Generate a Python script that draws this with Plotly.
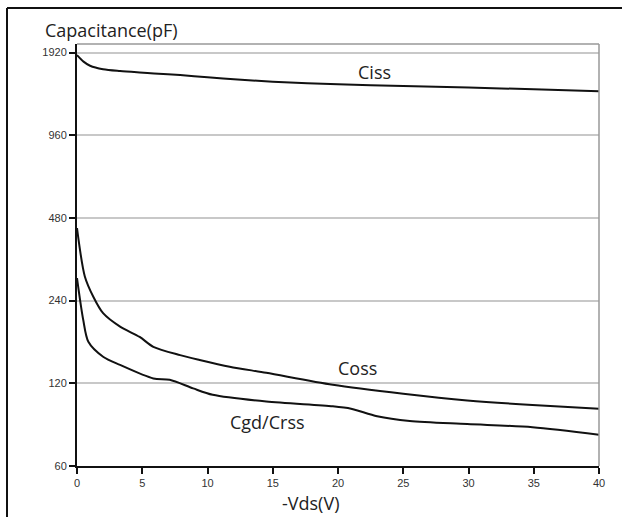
import math
import plotly.graph_objects as go

vds = [0, 0.5, 1, 2, 3.3, 4.8, 5.9, 7.9, 10, 12.3, 15, 20, 25, 30, 35, 40]
ciss = [1880, 1780, 1720, 1670, 1645, 1625, 1612, 1590, 1562, 1531, 1505, 1472, 1452, 1432, 1412, 1390]

vds_o = [0, 0.6, 1.25, 2.0, 3.3, 4.8, 5.85, 7.9, 9.4, 11.7, 14.5, 19.6, 25.0, 29.9, 34.9, 40]
coss = [441, 294, 248, 216, 193, 177, 163, 152, 146, 138, 131, 118.5, 110, 104, 100, 97]

vds_r = [0, 0.48, 0.87, 2.0, 3.3, 5.85, 7.1, 8.9, 10.4, 14.5, 19.6, 21.0, 23.0, 25.5, 29.9, 34.9, 40]
crss = [290, 204, 170, 150, 140, 125, 123.6, 115, 109, 103, 99, 97, 91, 87.5, 85.3, 83, 78]

ytick_vals = [60, 120, 240, 480, 960, 1920]
ytick_text = ["60", "120", "240", "480", "960", "1920"]
xtick_vals = [0, 5, 10, 15, 20, 25, 30, 35, 40]

labels = [("Ciss", 22.8, 1638), ("Coss", 21.5, 136.6), ("Cgd/Crss", 14.6, 87)]

fig = go.Figure()
for xs, ys in [(vds, ciss), (vds_o, coss), (vds_r, crss)]:
    fig.add_trace(go.Scatter(x=xs, y=ys, mode="lines",
                             line=dict(color="#111111", width=2, shape="spline", smoothing=0.8),
                             showlegend=False, hoverinfo="skip"))

for txt, lx, ly in labels:
    fig.add_annotation(x=lx, y=math.log10(ly), yref="y", xref="x", text=txt, showarrow=False,
                       xanchor="center", yanchor="middle",
                       font=dict(family="Open Sans", size=18, color="#222222"))

fig.add_annotation(xref="paper", yref="paper", x=(111 - 77) / 522, y=(466 - 30) / 422,
                   xanchor="center", yanchor="middle",
                   text="Capacitance(pF)", showarrow=False,
                   font=dict(family="Open Sans", size=18, color="#222222"))
fig.add_annotation(xref="paper", yref="paper", x=(310 - 77) / 522, y=(466 - 503) / 422,
                   xanchor="center", yanchor="middle", borderpad=0,
                   text="-Vds(V)", showarrow=False,
                   font=dict(family="Open Sans", size=18, color="#222222"))

# gray top/right frame of plot area
fig.add_shape(type="line", xref="paper", yref="paper", x0=0, x1=1, y0=1, y1=1,
              line=dict(color="#999999", width=1.5))
fig.add_shape(type="line", xref="paper", yref="paper", x0=1, x1=1, y0=0, y1=1,
              line=dict(color="#999999", width=1.5))
# outer border (left & top)
bl = (7 - 77) / 522
bt = (466 - 8) / 422
fig.add_shape(type="line", xref="paper", yref="paper", x0=bl, x1=(625 - 77) / 522, y0=bt, y1=bt,
              line=dict(color="#111111", width=2))
fig.add_shape(type="line", xref="paper", yref="paper", x0=bl, x1=bl, y0=bt, y1=(466 - 520) / 422,
              line=dict(color="#111111", width=2))

tickfont = dict(family="Liberation Sans Narrow, Liberation Sans", size=11, color="#333333")
fig.update_xaxes(range=[0, 40], tickvals=xtick_vals, showgrid=False, zeroline=False,
                 showline=True, linecolor="#111111", linewidth=2,
                 ticks="outside", ticklen=6, tickcolor="#111111", tickwidth=1.5,
                 tickfont=tickfont)
fig.update_yaxes(type="log", range=[1.77815, 3.3146], tickvals=ytick_vals, ticktext=ytick_text,
                 showgrid=True, gridcolor="#c8c8c8", gridwidth=1.5, zeroline=False,
                 showline=True, linecolor="#111111", linewidth=2,
                 ticks="outside", ticklen=6, tickcolor="#111111", tickwidth=1.5,
                 tickfont=tickfont)
fig.update_layout(width=622, height=517, margin=dict(l=77, r=23, t=44, b=51),
                  paper_bgcolor="white", plot_bgcolor="white")
fig.write_html("out.html")
